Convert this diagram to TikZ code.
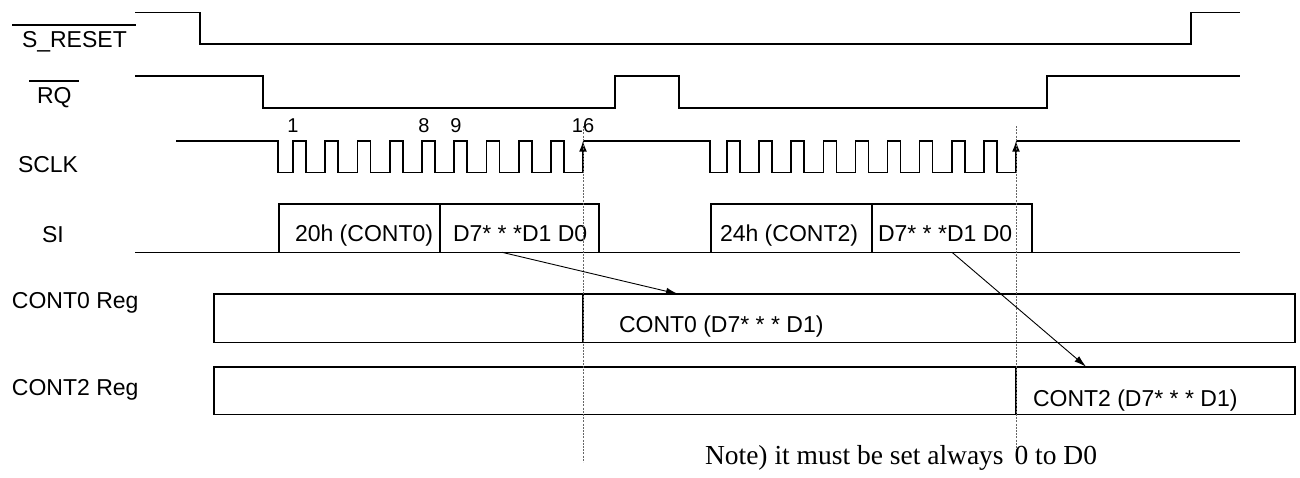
\documentclass[tikz,border=0pt]{standalone}
\usepackage{fontspec}
\setmainfont{Liberation Sans}
\newfontfamily\notefont{Liberation Serif}
\usetikzlibrary{arrows.meta,calc}
\begin{document}
\begin{tikzpicture}[x=1pt,y=-1pt,
  sig/.style={line width=1.6pt, line join=miter},
  box/.style={draw, line width=1.6pt, inner sep=0pt, outer sep=0pt, anchor=north west},
  lbl/.style={inner sep=0pt, outer sep=0pt, anchor=base west, font=\fontsize{23}{23}\selectfont},
  num/.style={inner sep=0pt, outer sep=0pt, anchor=base, font=\fontsize{20}{20}\selectfont},
  guide/.style={line width=0.6pt, black!60, dash pattern=on 2pt off 1.2pt},
  flow/.style={line width=0.9pt, -{Latex[length=12pt,width=7pt]}},
  edgearrow/.style={line width=1.6pt, -{Latex[length=11pt,width=8pt]}},
  bar/.style={line width=1.3pt}
]
\useasboundingbox (0,0) rectangle (1300,477);

% ---- labels
\node[lbl] (tReset) at (22,47.7) {S\_RESET};
\draw[bar] (12,25) -- (136,25);
\node[lbl] (tRQ) at (37,103) {RQ};
\draw[bar] (29,81) -- (79,81);
\node[lbl] (tSCLK) at (18,172) {SCLK};
\node[lbl] (tSI) at (42,242) {SI};
\node[lbl] (tR0) at (12,308.3) {CONT0 Reg};
\node[lbl] (tR2) at (12,395) {CONT2 Reg};

% ---- S_RESET
\draw[sig] (135,12.3) -- (200,12.3) -- (200,43.7) -- (1191,43.7) -- (1191,12.3) -- (1240,12.3);
% ---- RQ
\draw[sig] (135,76) -- (263,76) -- (263,108) -- (615,108) -- (615,76) -- (679,76) -- (679,108) -- (1047,108) -- (1047,76) -- (1240,76);

% ---- SCLK
\draw[sig] (176,140.7) -- (278,140.7) -- (278,172.3)
  \foreach \k in {0,...,8} { -- ({293+32.25*\k},172.3) -- ({293+32.25*\k},140.7) -- ({306+32.25*\k},140.7) -- ({306+32.25*\k},172.3) }
  -- (583,172.3);
\draw[edgearrow] (583,172.3) -- (583,140.7);
\draw[sig] (583,140.7) -- (710,140.7) -- (710,172.3)
  \foreach \k in {0,...,8} { -- ({727+32.1*\k},172.3) -- ({727+32.1*\k},140.7) -- ({740+32.1*\k},140.7) -- ({740+32.1*\k},172.3) }
  -- (1016,172.3);
\draw[edgearrow] (1016,172.3) -- (1016,140.7);
\draw[sig] (1016,140.7) -- (1240,140.7);

\node[num] (n1) at (293,132) {1};
\node[num] (n8) at (424,132) {8};
\node[num] (n9) at (456,132) {9};
\node[num] (n16) at (583,132) {16};

% ---- SI
\draw[sig] (135,252.3) -- (1240,252.3);
\node[box, minimum width=161pt, minimum height=48.3pt] (siA) at (279,204) {};
\node[box, minimum width=159pt, minimum height=48.3pt] (siB) at (440,204) {};
\node[box, minimum width=161pt, minimum height=48.3pt] (siC) at (711,204) {};
\node[box, minimum width=160pt, minimum height=48.3pt] (siD) at (872,204) {};
\node[lbl] (tA) at (295,241) {20h (CONT0)};
\node[lbl] (tB) at (453,241) {D7* * *D1 D0};
\node[lbl] (tC) at (720,241) {24h (CONT2)};
\node[lbl] (tD) at (878,241) {D7* * *D1 D0};

% ---- registers
\node[box, minimum width=1081pt, minimum height=48.3pt] (reg0) at (214,294) {};
\draw[sig] (583,294) -- (583,342.3);
\node[box, minimum width=1081pt, minimum height=47.6pt] (reg2) at (214,366.7) {};
\draw[sig] (1016,366.7) -- (1016,414.3);
\node[lbl] (tR0v) at (619,332) {CONT0 (D7* * * D1)};
\node[lbl] (tR2v) at (1033,406) {CONT2 (D7* * * D1)};

% ---- guides
\draw[guide] (583,126) -- (583,462);
\draw[guide] (1016,126) -- (1016,462);

% ---- flow arrows
\coordinate (f1s) at ($(siB.south west)!0.39!(siB.south east)$);
\coordinate (f1e) at ($(reg0.north west)!0.4292!(reg0.north east)$);
\draw[flow] (f1s) -- (f1e);
\coordinate (f2s) at ($(siD.south west)!0.5!(siD.south east)$);
\coordinate (f2e) at ($(reg2.north west)!0.8067!(reg2.north east)$);
\draw[flow] (f2s) -- (f2e);

% ---- note
\node[inner sep=0pt, outer sep=0pt, anchor=base west, font=\notefont\fontsize{27.5}{28}\selectfont] (note) at (705,464) {Note) it must be set always\hspace{4pt} 0 to D0};
\end{tikzpicture}
\end{document}
